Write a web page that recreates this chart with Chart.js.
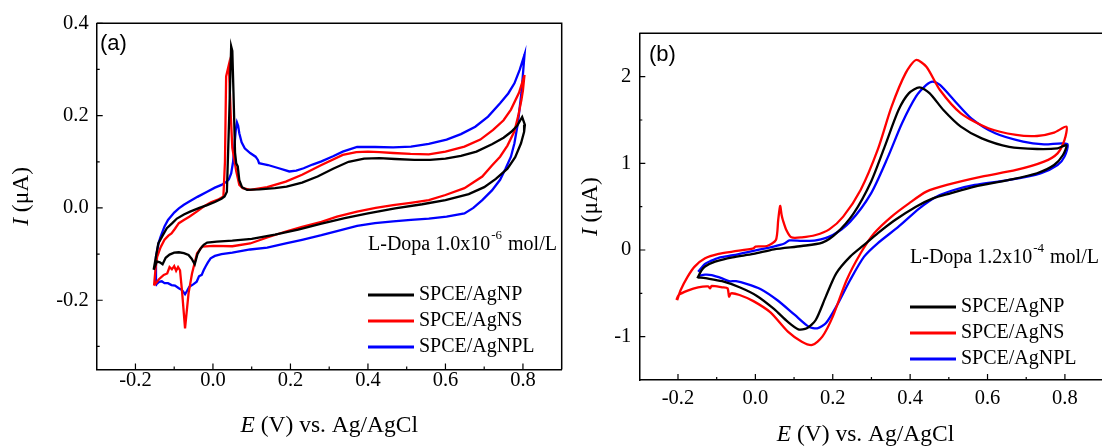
<!DOCTYPE html>
<html><head><meta charset="utf-8">
<script src="https://cdn.jsdelivr.net/npm/chart.js@4.4.1/dist/chart.umd.min.js"></script>
<style>
html,body{margin:0;padding:0;width:1102px;height:446px;overflow:hidden;background:#fff;}
#ca{position:absolute;left:0;top:0;}
#cb{position:absolute;left:560px;top:0;}
</style></head><body>
<canvas id="ca" width="570" height="446"></canvas>
<canvas id="cb" width="560" height="446"></canvas>
<script>
// ---------- shared ----------
const seriesNames = ['SPCE/AgNP', 'SPCE/AgNS', 'SPCE/AgNPL'];
const seriesColors = ['#000000', '#ff0000', '#0000ff'];

const xTicks = [-0.2, 0.0, 0.2, 0.4, 0.6, 0.8];
const xMinorTicks = [-0.1, 0.1, 0.3, 0.5, 0.7];
const aYTicks = [-0.2, 0.0, 0.2, 0.4];
const aYMinorTicks = [-0.3, -0.1, 0.1, 0.3];
const bYTicks = [-1, 0, 1, 2];
const bYMinorTicks = [-0.5, 0.5, 1.5];

// ---------- Panel (a): L-Dopa 1.0x10^-6 mol/L ----------
const aNP_E = [-0.153,-0.146,-0.141,-0.130,-0.119,-0.105,-0.093,-0.075,-0.059,-0.035,-0.015,0.005,0.022,0.030,0.036,0.042,0.047,0.050,0.053,0.057,0.060,0.064,0.068,0.075,0.088,0.12,0.16,0.19,0.23,0.27,0.31,0.35,0.39,0.43,0.47,0.52,0.56,0.60,0.64,0.68,0.72,0.75,0.77,0.785,0.798,0.805,0.803,0.795,0.78,0.76,0.73,0.70,0.66,0.60,0.54,0.47,0.40,0.34,0.28,0.22,0.16,0.10,0.05,0.01,-0.015,-0.024,-0.032,-0.040,-0.047,-0.055,-0.063,-0.075,-0.088,-0.100,-0.112,-0.122,-0.130,-0.137,-0.145,-0.153];
const aNP_I = [-0.134,-0.100,-0.077,-0.060,-0.044,-0.033,-0.023,-0.014,-0.008,0.000,0.006,0.013,0.020,0.025,0.035,0.20,0.35,0.34,0.25,0.12,0.097,0.09,0.06,0.045,0.039,0.040,0.043,0.046,0.055,0.068,0.085,0.100,0.107,0.108,0.106,0.104,0.104,0.107,0.113,0.122,0.138,0.152,0.165,0.178,0.197,0.180,0.165,0.140,0.110,0.085,0.063,0.045,0.030,0.017,0.008,-0.001,-0.012,-0.022,-0.034,-0.047,-0.058,-0.067,-0.071,-0.073,-0.075,-0.080,-0.088,-0.100,-0.122,-0.110,-0.102,-0.098,-0.096,-0.097,-0.101,-0.108,-0.122,-0.118,-0.116,-0.134];

const aNS_E = [-0.152,-0.148,-0.144,-0.135,-0.125,-0.115,-0.107,-0.098,-0.088,-0.075,-0.061,-0.040,-0.024,-0.005,0.013,0.027,0.031,0.034,0.041,0.046,0.050,0.054,0.060,0.068,0.077,0.096,0.14,0.188,0.23,0.28,0.335,0.37,0.40,0.43,0.465,0.51,0.557,0.60,0.649,0.69,0.723,0.75,0.769,0.79,0.804,0.800,0.796,0.788,0.778,0.76,0.741,0.72,0.695,0.649,0.60,0.557,0.51,0.465,0.42,0.372,0.32,0.28,0.23,0.188,0.14,0.096,0.05,0.002,-0.028,-0.041,-0.054,-0.063,-0.072,-0.080,-0.085,-0.090,-0.095,-0.100,-0.106,-0.112,-0.118,-0.127,-0.140,-0.152];
const aNS_I = [-0.168,-0.130,-0.106,-0.085,-0.069,-0.060,-0.055,-0.045,-0.033,-0.026,-0.019,-0.007,0.003,0.012,0.018,0.025,0.10,0.285,0.31,0.20,0.13,0.11,0.08,0.05,0.043,0.039,0.045,0.057,0.072,0.093,0.115,0.121,0.122,0.121,0.119,0.117,0.116,0.122,0.133,0.148,0.169,0.19,0.213,0.25,0.288,0.255,0.234,0.20,0.166,0.135,0.111,0.092,0.068,0.043,0.028,0.017,0.011,0.006,0.0,-0.008,-0.019,-0.030,-0.041,-0.051,-0.064,-0.077,-0.083,-0.082,-0.084,-0.098,-0.142,-0.185,-0.261,-0.178,-0.135,-0.128,-0.136,-0.126,-0.133,-0.128,-0.142,-0.145,-0.155,-0.168];

const aNPL_E = [-0.148,-0.147,-0.140,-0.135,-0.125,-0.116,-0.100,-0.088,-0.075,-0.061,-0.040,-0.015,0.005,0.022,0.035,0.041,0.047,0.052,0.056,0.059,0.062,0.065,0.068,0.074,0.082,0.096,0.110,0.116,0.119,0.130,0.142,0.170,0.197,0.215,0.234,0.257,0.280,0.310,0.335,0.372,0.418,0.465,0.511,0.557,0.603,0.640,0.677,0.710,0.741,0.762,0.778,0.792,0.804,0.800,0.796,0.787,0.778,0.769,0.755,0.741,0.720,0.695,0.672,0.649,0.603,0.557,0.511,0.465,0.418,0.372,0.320,0.280,0.230,0.188,0.140,0.096,0.050,0.022,0.005,-0.006,-0.013,-0.019,-0.024,-0.029,-0.036,-0.042,-0.050,-0.061,-0.067,-0.072,-0.080,-0.088,-0.098,-0.107,-0.116,-0.125,-0.132,-0.139,-0.148];
const aNPL_I = [-0.167,-0.106,-0.075,-0.062,-0.040,-0.026,-0.010,-0.001,0.007,0.014,0.024,0.035,0.044,0.050,0.057,0.062,0.075,0.100,0.140,0.170,0.185,0.178,0.162,0.142,0.129,0.119,0.111,0.104,0.097,0.095,0.093,0.086,0.079,0.081,0.086,0.094,0.101,0.112,0.122,0.132,0.132,0.131,0.133,0.139,0.148,0.160,0.176,0.198,0.227,0.248,0.270,0.300,0.332,0.290,0.249,0.184,0.140,0.111,0.085,0.061,0.038,0.017,0.000,-0.012,-0.019,-0.023,-0.026,-0.029,-0.033,-0.039,-0.050,-0.059,-0.069,-0.077,-0.086,-0.090,-0.097,-0.100,-0.104,-0.109,-0.118,-0.127,-0.135,-0.145,-0.148,-0.160,-0.165,-0.171,-0.180,-0.187,-0.178,-0.174,-0.168,-0.167,-0.163,-0.163,-0.159,-0.160,-0.167];

// ---------- Panel (b): L-Dopa 1.2x10^-4 mol/L ----------
const bNP_E = [-0.150,-0.140,-0.130,-0.104,-0.059,-0.005,0.048,0.120,0.173,0.209,0.254,0.299,0.334,0.370,0.397,0.424,0.450,0.486,0.531,0.585,0.656,0.728,0.781,0.804,0.795,0.772,0.728,0.656,0.567,0.504,0.459,0.415,0.361,0.316,0.281,0.245,0.209,0.182,0.156,0.133,0.111,0.084,0.048,0.004,-0.041,-0.086,-0.122,-0.148];
const bNP_I = [-0.327,-0.24,-0.19,-0.135,-0.085,-0.046,0.008,0.046,0.085,0.192,0.423,0.788,1.19,1.615,1.81,1.877,1.81,1.615,1.423,1.288,1.19,1.165,1.173,1.21,1.096,0.98,0.885,0.808,0.73,0.654,0.596,0.5,0.346,0.192,0.058,-0.077,-0.27,-0.538,-0.808,-0.904,-0.915,-0.83,-0.68,-0.53,-0.43,-0.36,-0.33,-0.315];

const bNS_E = [-0.202,-0.193,-0.175,-0.157,-0.130,-0.095,-0.059,-0.005,0.000,0.030,0.053,0.059,0.064,0.068,0.071,0.080,0.093,0.120,0.156,0.191,0.227,0.272,0.316,0.352,0.388,0.415,0.442,0.477,0.531,0.602,0.674,0.728,0.772,0.804,0.799,0.781,0.746,0.674,0.585,0.495,0.442,0.397,0.352,0.307,0.272,0.236,0.200,0.173,0.147,0.120,0.084,0.039,-0.005,-0.041,-0.063,-0.068,-0.072,-0.086,-0.113,-0.117,-0.122,-0.148,-0.175,-0.198,-0.204];
const bNS_I = [-0.577,-0.462,-0.308,-0.192,-0.096,-0.046,-0.019,0.019,0.040,0.046,0.115,0.346,0.508,0.40,0.346,0.231,0.146,0.146,0.173,0.238,0.385,0.692,1.154,1.654,2.038,2.192,2.115,1.846,1.577,1.404,1.327,1.315,1.354,1.423,1.27,1.115,1.019,0.923,0.846,0.75,0.673,0.538,0.385,0.192,-0.038,-0.346,-0.769,-1.0,-1.096,-1.058,-0.942,-0.72,-0.59,-0.519,-0.5,-0.538,-0.442,-0.431,-0.415,-0.442,-0.42,-0.431,-0.469,-0.519,-0.577];

const bNPL_E = [-0.148,-0.130,-0.117,-0.095,-0.057,-0.005,0.047,0.075,0.088,0.120,0.156,0.200,0.245,0.299,0.343,0.379,0.415,0.442,0.458,0.477,0.513,0.558,0.620,0.692,0.746,0.806,0.799,0.781,0.737,0.656,0.567,0.513,0.468,0.424,0.370,0.316,0.281,0.245,0.209,0.182,0.160,0.138,0.102,0.057,0.013,-0.023,-0.050,-0.068,-0.086,-0.113,-0.130,-0.148];
const bNPL_I = [-0.25,-0.16,-0.13,-0.09,-0.06,-0.01,0.04,0.075,0.11,0.105,0.11,0.173,0.327,0.654,1.077,1.462,1.769,1.904,1.942,1.904,1.731,1.519,1.346,1.25,1.219,1.223,1.077,0.981,0.885,0.808,0.75,0.692,0.615,0.481,0.269,0.077,-0.077,-0.346,-0.654,-0.846,-0.904,-0.885,-0.75,-0.58,-0.45,-0.39,-0.36,-0.36,-0.327,-0.29,-0.285,-0.3];

const pts = (E, I) => E.map((x, i) => ({x: x, y: I[i]}));
const SERIF = '"Liberation Serif", "Times New Roman", serif';
const SANS = '"Liberation Sans", Arial, sans-serif';
const TICK_SIZE = 20.5;

function drawParts(ctx, parts, x, y, size) {
  let total = 0;
  parts.forEach(p => { ctx.font = (p.i ? 'italic ' : '') + size + 'px ' + SERIF; p.w = ctx.measureText(p.t).width; total += p.w; });
  let cx = x - total / 2;
  ctx.textAlign = 'left'; ctx.textBaseline = 'middle';
  parts.forEach(p => { ctx.font = (p.i ? 'italic ' : '') + size + 'px ' + SERIF; ctx.fillText(p.t, cx, y); cx += p.w; });
}

function deco(cfg) {
  return {
    id: 'deco',
    afterDraw(chart) {
      const ctx = chart.ctx, xs = chart.scales.x, ys = chart.scales.y, ca = chart.chartArea;
      ctx.save();
      ctx.strokeStyle = '#000'; ctx.fillStyle = '#000';
      ctx.lineWidth = 1.5;
      ctx.beginPath();
      ctx.moveTo(ca.left, ca.top); ctx.lineTo(ca.right, ca.top); ctx.lineTo(ca.right, ca.bottom);
      ctx.stroke();
      ctx.lineWidth = 1.2;
      ctx.beginPath();
      cfg.xMajor.forEach(v => { const p = xs.getPixelForValue(v); ctx.moveTo(p, ca.bottom); ctx.lineTo(p, ca.bottom - 6); });
      cfg.xMinor.forEach(v => { const p = xs.getPixelForValue(v); ctx.moveTo(p, ca.bottom); ctx.lineTo(p, ca.bottom - 3); });
      cfg.yMajor.forEach(v => { const p = ys.getPixelForValue(v); ctx.moveTo(ca.left, p); ctx.lineTo(ca.left + 6, p); });
      cfg.yMinor.forEach(v => { const p = ys.getPixelForValue(v); ctx.moveTo(ca.left, p); ctx.lineTo(ca.left + 3, p); });
      ctx.stroke();
      drawParts(ctx, [{t: 'E', i: true}, {t: ' (V) vs. Ag/AgCl'}], (ca.left + ca.right) / 2 + cfg.xtDx, cfg.xtY, 23.5);
      ctx.save();
      ctx.translate(cfg.ytX, (ca.top + ca.bottom) / 2);
      ctx.rotate(-Math.PI / 2);
      drawParts(ctx, [{t: 'I', i: true}, {t: ' (\u03bcA)'}], 0, 0, 23.5);
      ctx.restore();
      ctx.font = '22px ' + SANS; ctx.textAlign = 'left'; ctx.textBaseline = 'middle';
      ctx.fillText(cfg.letter, cfg.letX, cfg.letY);
      ctx.font = '20px ' + SERIF;
      let ax = cfg.annX;
      ctx.fillText(cfg.ann[0], ax, cfg.annY); ax += ctx.measureText(cfg.ann[0]).width;
      ctx.font = '13px ' + SERIF;
      ctx.fillText(cfg.ann[1], ax + 1, cfg.annY - 9); ax += ctx.measureText(cfg.ann[1]).width + 2;
      ctx.font = '20px ' + SERIF;
      ctx.fillText(cfg.ann[2], ax, cfg.annY);
      chart.data.datasets.forEach((ds, k) => {
        const y = cfg.legY + k * 26;
        ctx.strokeStyle = ds.borderColor; ctx.lineWidth = 2.8;
        ctx.beginPath(); ctx.moveTo(cfg.legX1, y); ctx.lineTo(cfg.legX2, y); ctx.stroke();
        ctx.font = '20px ' + SERIF; ctx.fillStyle = '#000';
        ctx.fillText(ds.label, cfg.legX2 + 5, y);
      });
      ctx.restore();
    }
  };
}

function makeChart(id, dataSets, o) {
  return new Chart(document.getElementById(id), {
    type: 'scatter',
    data: {
      datasets: dataSets.map((d, k) => ({
        label: seriesNames[k], data: pts(d[0], d[1]), showLine: true,
        borderColor: seriesColors[k], backgroundColor: seriesColors[k],
        borderWidth: 2.3, pointRadius: 0, tension: o.tension, fill: false
      }))
    },
    options: {
      responsive: false, animation: false, events: [],
      layout: {padding: {left: 0, right: o.padR, top: o.padT, bottom: 0}},
      plugins: {legend: {display: false}, tooltip: {enabled: false}},
      scales: {
        x: {
          type: 'linear', min: -0.3, max: 0.9,
          afterBuildTicks: ax => { ax.ticks = xTicks.map(v => ({value: v})); },
          afterFit: ax => { ax.height = o.xH; },
          grid: {display: false, drawTicks: false},
          border: {display: true, color: '#000', width: 1.5},
          ticks: {padding: o.xPad, color: '#000', maxRotation: 0, autoSkip: false,
                  font: {family: SERIF, size: TICK_SIZE}, callback: v => v.toFixed(1)}
        },
        y: {
          type: 'linear', min: o.yMin, max: o.yMax,
          afterBuildTicks: ax => { ax.ticks = o.yTicks.map(v => ({value: v})); },
          afterFit: ax => { ax.width = o.yW; },
          grid: {display: false, drawTicks: false},
          border: {display: true, color: '#000', width: 1.5},
          ticks: {padding: o.yPad, color: '#000', autoSkip: false,
                  font: {family: SERIF, size: TICK_SIZE}, callback: o.yFmt}
        }
      }
    },
    plugins: [deco(o.deco)]
  });
}

makeChart('ca', [[aNP_E, aNP_I], [aNS_E, aNS_I], [aNPL_E, aNPL_I]], {
  tension: 0, padR: 8.3, padT: 23.3, xH: 76.5, yW: 96.7, xPad: -1, yPad: 8,
  yMin: -0.35, yMax: 0.4, yTicks: aYTicks, yFmt: v => v.toFixed(1),
  deco: {xMajor: xTicks, xMinor: xMinorTicks, yMajor: aYTicks, yMinor: aYMinorTicks,
         xtDx: 0, xtY: 426, ytX: 22, letter: '(a)', letX: 100, letY: 44,
         ann: ['L-Dopa 1.0x10', '-6', ' mol/L'], annX: 368, annY: 245,
         legX1: 368, legX2: 414, legY: 295}
});

makeChart('cb', [[bNP_E, bNP_I], [bNS_E, bNS_I], [bNPL_E, bNPL_I]], {
  tension: 0.25, padR: 560 - 543.6, padT: 33.3, xH: 66, yW: 79.3, xPad: 6, yPad: 8,
  yMin: -1.5, yMax: 2.5, yTicks: bYTicks, yFmt: v => String(Math.round(v)),
  deco: {xMajor: xTicks, xMinor: xMinorTicks, yMajor: bYTicks, yMinor: bYMinorTicks,
         xtDx: -6, xtY: 435, ytX: 31, letter: '(b)', letX: 89, letY: 55,
         ann: ['L-Dopa 1.2x10', '-4', ' mol/L'], annX: 350, annY: 258,
         legX1: 350, legX2: 396, legY: 307}
});
</script>
</body></html>
